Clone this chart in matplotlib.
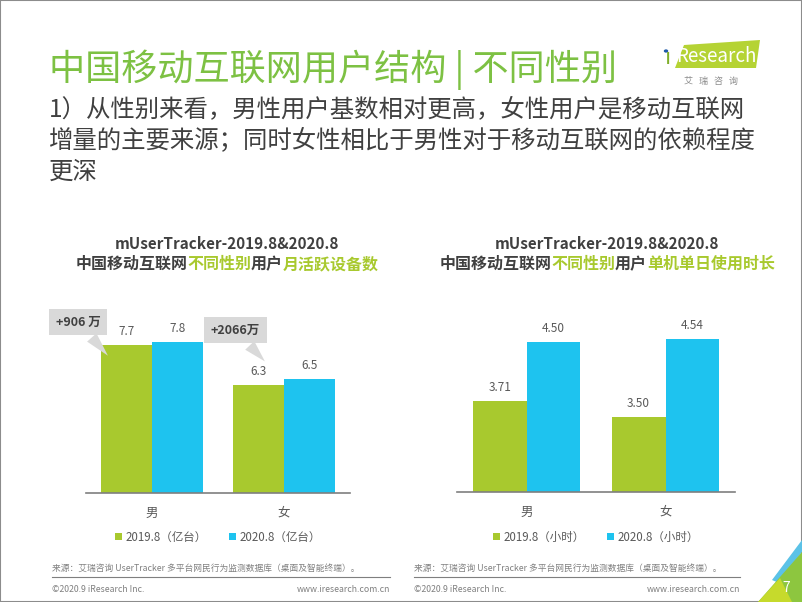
import numpy as np
import matplotlib
matplotlib.use('Agg')
import matplotlib.pyplot as plt
from matplotlib.patches import Polygon, Rectangle

plt.rcParams['font.family'] = ['Noto Sans CJK SC', 'DejaVu Sans']

# Dados
categorias = ['男', '女']
devices_2019 = [7.7, 6.3]
devices_2020 = [7.8, 6.5]
horas_2019 = [3.71, 3.50]
horas_2020 = [4.50, 4.54]
legenda_esq = ['2019.8（亿台）', '2020.8（亿台）']
legenda_dir = ['2019.8（小时）', '2020.8（小时）']
incrementos = ['+906 万', '+2066万']

VERDE = '#A8C92E'
AZUL = '#1EC3EF'
TITULO_VERDE = '#7DC143'
ESCURO = '#404040'
CINZA = '#595959'
CINZA_CLARO = '#808080'

W, H = 802, 602
fig = plt.figure(figsize=(W / 100, H / 100), dpi=100)


def fx(px):
    return px / W


def fy(py):
    return 1 - py / H


# Moldura
fig.patches.append(Rectangle((0, 0), 1, 1, transform=fig.transFigure, fill=False,
                             ec='#8C8C8C', lw=1.5))

# Titulo e subtitulo
fig.text(fx(49), fy(70), '中国移动互联网用户结构 | 不同性别', color=TITULO_VERDE,
         fontsize=26, va='center', ha='left')
linhas = ['1）从性别来看，男性用户基数相对更高，女性用户是移动互联网',
          '增量的主要来源；同时女性相比于男性对于移动互联网的依赖程度',
          '更深']
for i, linha in enumerate(linhas):
    fig.text(fx(49), fy(109 + 31.5 * i), linha, color=ESCURO, fontsize=17.6,
             va='center', ha='left')

# Logo
fig.patches.append(Polygon([(fx(684), fy(45)), (fx(760), fy(40)), (fx(756), fy(68)), (fx(675), fy(68))],
                           closed=True, transform=fig.transFigure, fc='#B5D334', ec='none'))
fig.text(fx(668), fy(58), 'ı', color='#7FAE2A', fontsize=16, va='center', ha='center')
fig.patches.append(plt.Circle((fx(666), fy(51)), 2.2 / W, transform=fig.transFigure,
                              fc='#1F5AA8', ec='none'))
fig.text(fx(716), fy(56), 'Research', color='white', fontsize=13.5, va='center', ha='center')
fig.text(fx(711), fy(81), '艾   瑞   咨   询', color='#8C8C8C', fontsize=6.5, va='center', ha='center')


def texto_colorido(xc, y, partes, tamanho):
    # caracteres CJK têm largura fixa de 1 em
    em = tamanho * 100 / 72
    n_total = sum(len(s) for s, _ in partes)
    x0 = xc - n_total * em / 2
    n = 0
    for s, c in partes:
        fig.text(fx(x0 + n * em), fy(y), s, color=c, fontsize=tamanho, fontweight='bold',
                 va='center', ha='left')
        n += len(s)


def grafico(ax, v1, v2, leg, ylim, fmt):
    x = np.arange(len(categorias))
    w = 0.387
    b1 = ax.bar(x - w / 2, v1, w, color=VERDE, label=leg[0])
    b2 = ax.bar(x + w / 2, v2, w, color=AZUL, label=leg[1])
    ax.bar_label(b1, labels=[fmt.format(v) for v in v1], padding=5, fontsize=8.5, color=CINZA)
    ax.bar_label(b2, labels=[fmt.format(v) for v in v2], padding=5, fontsize=8.5, color=CINZA)
    ax.set_xlim(-0.5, 1.5)
    ax.set_ylim(*ylim)
    ax.set_xticks(x)
    ax.set_xticklabels(categorias, fontsize=9, color=CINZA)
    ax.tick_params(axis='x', length=0, pad=10)
    ax.set_yticks([])
    for s in ['top', 'left', 'right']:
        ax.spines[s].set_visible(False)
    ax.spines['bottom'].set_color('#7F7F7F')
    ax.spines['bottom'].set_linewidth(1.2)
    ax.patch.set_alpha(0)
    return b1, b2


# Grafico da esquerda
ax1 = fig.add_axes([fx(86), fy(493), (350 - 86) / W, (493 - 300) / H])
grafico(ax1, devices_2019, devices_2020, legenda_esq, (2.52, 9.27), '{:.1f}')
ax1.legend(loc='center', bbox_to_anchor=(0.5, -44 / 193), ncol=2, frameon=False,
           fontsize=8.3, handlelength=0.6, handleheight=0.6, handletextpad=0.3,
           columnspacing=2.0, labelcolor=CINZA)

caixa = dict(boxstyle='square,pad=0.55', fc='#D9D9D9', ec='none')
seta = dict(arrowstyle='wedge,tail_width=1.0,shrink_factor=0.5', fc='#D9D9D9', ec='none')
ax1.annotate(incrementos[0], xy=(-0.32, 7.25), xytext=(-0.56, 8.5), fontsize=9,
             fontweight='bold', color=ESCURO, ha='center', va='center', bbox=caixa,
             arrowprops=seta, annotation_clip=False)
ax1.annotate(incrementos[1], xy=(0.87, 7.05), xytext=(0.63, 8.22), fontsize=9,
             fontweight='bold', color=ESCURO, ha='center', va='center', bbox=caixa,
             arrowprops=seta, annotation_clip=False)

# Grafico da direita
ax2 = fig.add_axes([fx(457), fy(492), (735 - 457) / W, (492 - 300) / H])
grafico(ax2, horas_2019, horas_2020, legenda_dir, (2.49, 5.06), '{:.2f}')
ax2.legend(loc='center', bbox_to_anchor=(0.5, -45 / 192), ncol=2, frameon=False,
           fontsize=8.3, handlelength=0.6, handleheight=0.6, handletextpad=0.3,
           columnspacing=2.0, labelcolor=CINZA)

# Titulos dos graficos
for xc, final in [(227, '月活跃设备数'), (607, '单机单日使用时长')]:
    fig.text(fx(xc), fy(244), 'mUserTracker-2019.8&2020.8', color=ESCURO, fontsize=11,
             fontweight='bold', va='center', ha='center')
    texto_colorido(xc, 264, [('中国移动互联网', ESCURO), ('不同性别', VERDE),
                             ('用户', ESCURO), (final, VERDE)], 11.5)

# Rodape
fonte = '来源：艾瑞咨询 UserTracker 多平台网民行为监测数据库（桌面及智能终端）。'
for x0, x1 in [(52, 390), (414, 740)]:
    fig.text(fx(x0), fy(568), fonte, color=CINZA_CLARO, fontsize=6.3, va='center', ha='left')
    fig.add_artist(plt.Line2D([fx(x0), fx(x1)], [fy(577), fy(577)], color='#7F7F7F', lw=0.8))
    fig.text(fx(x0), fy(590), '©2020.9 iResearch Inc.', color=CINZA_CLARO, fontsize=6.3,
             va='center', ha='left')
    fig.text(fx(x1), fy(590), 'www.iresearch.com.cn', color=CINZA_CLARO, fontsize=6.3,
             va='center', ha='right')

# Canto com numero da pagina
fig.patches.append(Polygon([(fx(772), fy(580)), (fx(802), fy(540)), (fx(802), fy(552)), (fx(779), fy(583))],
                           closed=True, transform=fig.transFigure, fc='#5BC2E7', ec='none'))
fig.patches.append(Polygon([(fx(758), fy(602)), (fx(802), fy(552)), (fx(802), fy(602))],
                           closed=True, transform=fig.transFigure, fc='#8DC63F', ec='none'))
fig.patches.append(Polygon([(fx(758), fy(602)), (fx(780), fy(578)), (fx(792), fy(602))],
                           closed=True, transform=fig.transFigure, fc='#C6DA2C', ec='none'))
fig.text(fx(786), fy(588), '7', color='white', fontsize=10, va='center', ha='center')

fig.savefig('out.png', dpi=100)
